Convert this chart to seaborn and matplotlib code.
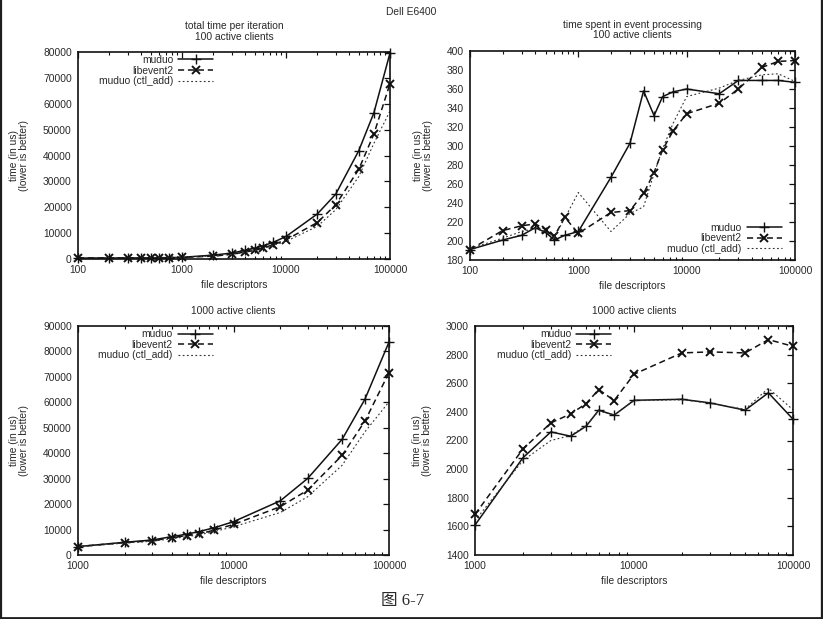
import matplotlib
matplotlib.use("Agg")
import matplotlib.pyplot as plt
import seaborn as sns
import pandas as pd
import numpy as np
from matplotlib.ticker import FixedLocator, FixedFormatter, LogLocator, NullFormatter, MultipleLocator
from matplotlib.lines import Line2D

sns.set_theme(style="white")
plt.rcParams['font.family'] = ['Liberation Sans', 'DejaVu Sans']

# ---------------- data ----------------
fds_100 = [100, 200, 300, 400, 500, 600, 750, 1000, 2000, 3000, 4000, 5000,
           6000, 7500, 10000, 20000, 30000, 50000, 70000, 100000]
fds_1000 = [1000, 2000, 3000, 4000, 5000, 6000, 7500, 10000, 20000, 30000,
            50000, 70000, 100000]

series_names = ["muduo", "libevent2", "muduo (ctl_add)"]

# total time per iteration, 100 active clients
tl_muduo = [350, 380, 400, 420, 450, 480, 520, 650, 1500, 2300, 3300, 4200,
            5100, 6400, 8700, 17400, 25000, 41800, 56500, 79600]
tl_libevent2 = [400, 420, 440, 460, 480, 500, 540, 650, 1100, 1800, 2700, 3300,
                4200, 5500, 7400, 14100, 20900, 34600, 48300, 67800]
tl_ctl_add = [330, 360, 380, 400, 420, 450, 490, 600, 1200, 1800, 2600, 3300,
              4000, 5200, 6800, 12600, 19000, 31800, 44700, 57200]

# time spent in event processing, 100 active clients
tr_muduo = [191, 201, 206, 214, 209, 201, 206, 210, 267, 303, 358, 332, 352,
            357, 360, 355, 369, 369, 369, 367]
tr_libevent2 = [191, 211, 216, 218, 212, 205, 225, 208, 230, 232, 250, 272, 296,
                316, 334, 345, 360, 383, 389, 390]
tr_ctl_add = [192, 203, 210, 213, 210, 204, 224, 251, 210, 229, 236, 271, 297,
              324, 352, 361, 369, 375, 376, 368]

# total time per iteration, 1000 active clients
bl_muduo = [3300, 5000, 5900, 7200, 8200, 9200, 10700, 13100, 21300, 30100,
            45500, 61200, 83700]
bl_libevent2 = [3300, 4900, 5600, 6800, 7600, 8200, 9800, 12000, 19000, 25500,
                39200, 52600, 71700]
bl_ctl_add = [3200, 4700, 5400, 6400, 7200, 7900, 9200, 11100, 16700, 22900,
              35300, 48400, 60200]

# time spent in event processing, 1000 active clients
br_muduo = [1609, 2079, 2260, 2230, 2300, 2412, 2377, 2481, 2488, 2463, 2412,
            2533, 2349]
br_libevent2 = [1684, 2140, 2323, 2386, 2458, 2556, 2479, 2663, 2812, 2819, 2812,
                2905, 2858]
br_ctl_add = [1640, 2060, 2200, 2235, 2305, 2405, 2380, 2478, 2485, 2460, 2418,
              2565, 2415]

suptitle = "Dell E6400"
titles = ["total time per iteration\n100 active clients",
          "time spent in event processing\n100 active clients",
          "1000 active clients",
          "1000 active clients"]
xlabel = "file descriptors"
ylabel = "time (in us)\n(lower is better)"
caption = "图 6-7"

# ---------------- style ----------------
INK = "#111111"
TXT = "#2a2a2a"
FS = 7.4
styles = {
    "muduo": dict(color=INK, linestyle="-", linewidth=1.1, marker="+",
                  markersize=6.5, markeredgewidth=1.0),
    "libevent2": dict(color=INK, linestyle=(0, (4, 2.5)), linewidth=1.1,
                      marker="x", markersize=5.5, markeredgewidth=1.4),
    "muduo (ctl_add)": dict(color="#333333", linestyle=(0, (1.6, 2.2)),
                            linewidth=0.8, marker=None),
}

W, H = 823, 619
fig = plt.figure(figsize=(W / 100, H / 100), dpi=100)
fig.patch.set_facecolor("white")


def ax_rect(l, r, t, b):
    return [l / W, 1 - b / H, (r - l) / W, (b - t) / H]


panels = [
    dict(rect=ax_rect(78, 390, 52, 259), x=fds_100,
         ys=[tl_muduo, tl_libevent2, tl_ctl_add], xlim=(100, 100000),
         ylim=(0, 80000), ystep=10000, title=titles[0],
         leg=dict(loc="upper right", bbox_to_anchor=(0.44, 0.995))),
    dict(rect=ax_rect(470, 795, 51, 260), x=fds_100,
         ys=[tr_muduo, tr_libevent2, tr_ctl_add], xlim=(100, 100000),
         ylim=(180, 400), ystep=20, title=titles[1],
         leg=dict(loc="lower right", bbox_to_anchor=(0.965, 0.02))),
    dict(rect=ax_rect(78, 389, 326, 555), x=fds_1000,
         ys=[bl_muduo, bl_libevent2, bl_ctl_add], xlim=(1000, 100000),
         ylim=(0, 90000), ystep=10000, title=titles[2],
         leg=dict(loc="upper right", bbox_to_anchor=(0.44, 0.995))),
    dict(rect=ax_rect(475, 793, 326, 555), x=fds_1000,
         ys=[br_muduo, br_libevent2, br_ctl_add], xlim=(1000, 100000),
         ylim=(1400, 3000), ystep=200, title=titles[3],
         leg=dict(loc="upper right", bbox_to_anchor=(0.435, 0.995))),
]

for p in panels:
    ax = fig.add_axes(p["rect"])
    ax.set_facecolor("white")
    for name, yv in zip(series_names, p["ys"]):
        df = pd.DataFrame({"fds": p["x"], "time": yv})
        st = styles[name]
        sns.lineplot(data=df, x="fds", y="time", ax=ax, label=name,
                     color=st["color"], linestyle=st["linestyle"],
                     linewidth=st["linewidth"], marker=st["marker"],
                     markersize=st.get("markersize", 0),
                     markeredgewidth=st.get("markeredgewidth", 0),
                     markeredgecolor=st["color"], clip_on=False)
    ax.set_xscale("log")
    ax.set_xlim(*p["xlim"])
    ax.set_ylim(*p["ylim"])
    majors = [v for v in [100, 1000, 10000, 100000]
              if p["xlim"][0] <= v <= p["xlim"][1]]
    ax.xaxis.set_major_locator(FixedLocator(majors))
    ax.xaxis.set_major_formatter(FixedFormatter([str(v) for v in majors]))
    ax.xaxis.set_minor_locator(LogLocator(base=10, subs=np.arange(2, 10)))
    ax.xaxis.set_minor_formatter(NullFormatter())
    ax.yaxis.set_major_locator(MultipleLocator(p["ystep"]))
    ax.tick_params(axis="both", which="major", direction="in", length=4.3,
                   width=0.9, color=INK, labelsize=FS, labelcolor=TXT,
                   top=True, right=True, pad=4)
    ax.tick_params(axis="x", which="minor", direction="in", length=2.2,
                   width=0.8, color=INK, top=True, bottom=True)
    ax.tick_params(axis="y", which="major", pad=4.5)
    for s in ax.spines.values():
        s.set_color(INK)
        s.set_linewidth(1.2)
        s.set_visible(True)
    ax.set_xlabel(xlabel, fontsize=FS, color=TXT, labelpad=4)
    ax.set_ylabel(ylabel, fontsize=FS, color=TXT, labelpad=10,
                  linespacing=1.0)
    ax.set_title(p["title"], fontsize=FS, color=TXT, pad=9, linespacing=1.05)
    ax.grid(False)
    leg = ax.legend(frameon=False, markerfirst=False, fontsize=FS,
                    handlelength=3.4, handletextpad=0.5, labelspacing=0.05,
                    borderpad=0.2, borderaxespad=0, **p["leg"])
    for t in leg.get_texts():
        t.set_color(TXT)

fig.text(411 / W, 1 - 12 / H, suptitle, ha="center", va="center",
         fontsize=FS, color=TXT)
fig.text(403 / W, 1 - 601 / H, caption, ha="center", va="center",
         fontsize=12, color=TXT,
         family=["Liberation Serif", "Noto Sans CJK SC", "DejaVu Sans"])

# scan frame (left, right, bottom edges)
frame_c = "#1e1e1e"
fig.add_artist(Line2D([1 / W, 1 / W], [0, 1], transform=fig.transFigure,
                      color=frame_c, linewidth=1.6))
fig.add_artist(Line2D([1 - 1.5 / W, 1 - 1.5 / W], [0, 1],
                      transform=fig.transFigure, color=frame_c, linewidth=2.4))
fig.add_artist(Line2D([0, 1], [1.2 / H, 1.2 / H], transform=fig.transFigure,
                      color=frame_c, linewidth=2.0))

fig.savefig("out.png", dpi=100, facecolor="white")
